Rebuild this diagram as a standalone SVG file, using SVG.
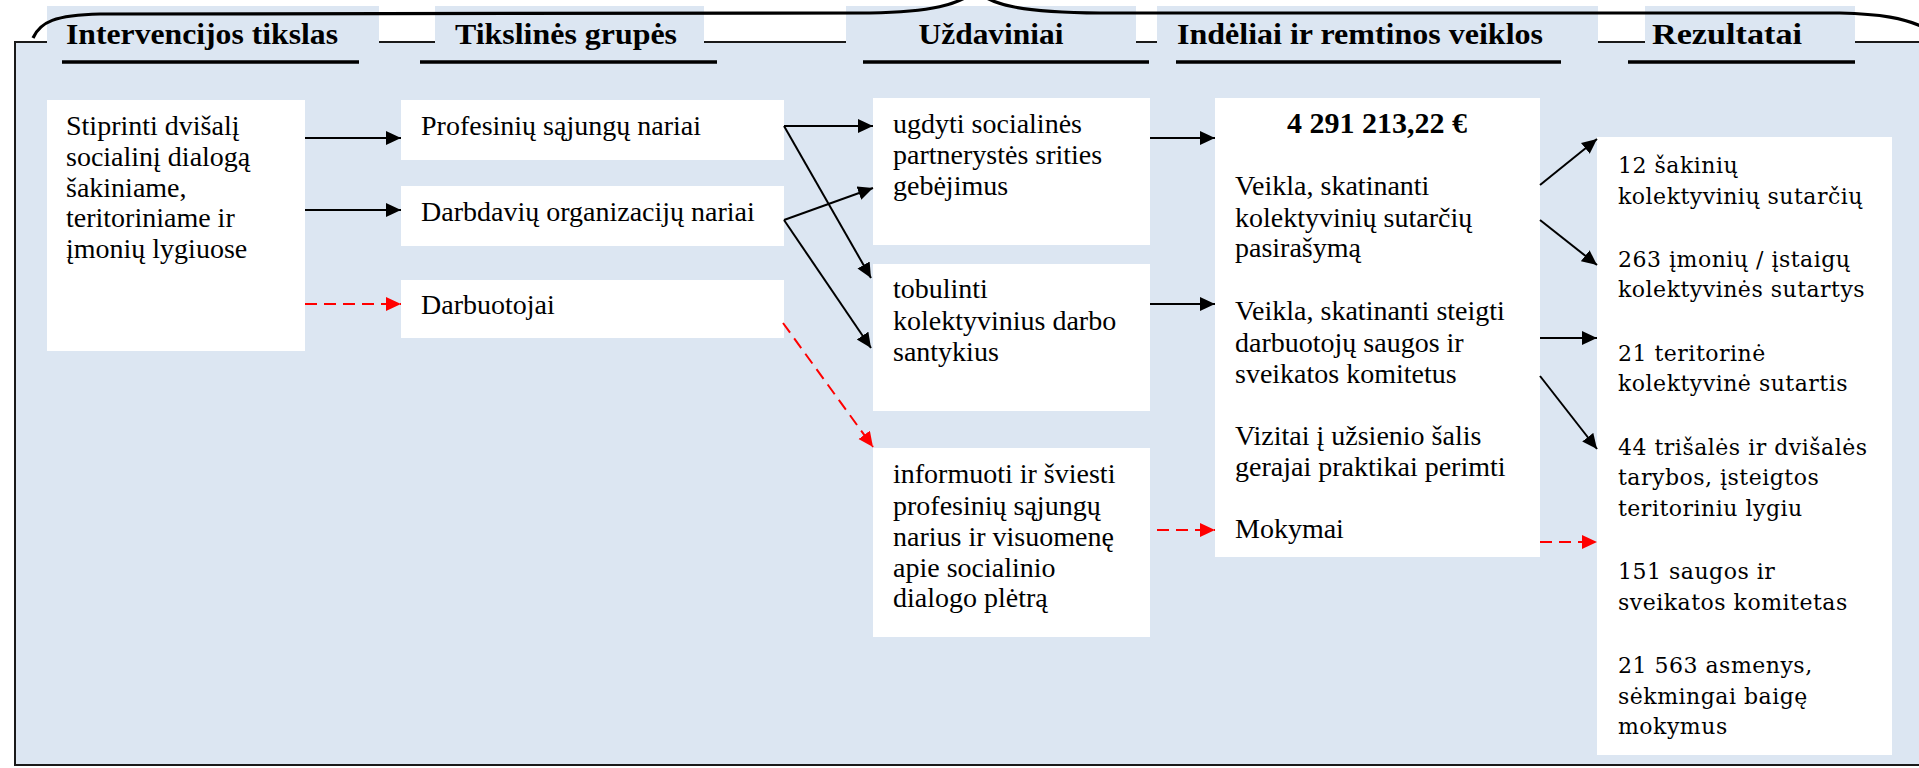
<svg xmlns="http://www.w3.org/2000/svg" width="1919" height="768" viewBox="0 0 1919 768">
<defs>
<style>
.bg{fill:#dce6f2}
.box{fill:#ffffff}
.hd{font-family:"Liberation Serif",serif;font-weight:bold;font-size:29px;fill:#000}
.t{font-family:"Liberation Serif",serif;font-size:28px;fill:#000}
.tb{font-family:"Liberation Serif",serif;font-size:30px;font-weight:bold;fill:#000}
.r{font-family:"DejaVu Serif",serif;font-size:22px;letter-spacing:0.5px;fill:#000}
.ul{stroke:#000;stroke-width:3.5}
.c{stroke:#000;stroke-width:2;fill:none}
.cr{stroke:#ff0000;stroke-width:2;fill:none;stroke-dasharray:12 7}
</style>
<marker id="ab" markerUnits="userSpaceOnUse" markerWidth="17" markerHeight="15" refX="15" refY="7" orient="auto">
<path d="M0,0 L15,7 L0,14 z" fill="#000"/>
</marker>
<marker id="ar" markerUnits="userSpaceOnUse" markerWidth="17" markerHeight="15" refX="15" refY="7" orient="auto">
<path d="M0,0 L15,7 L0,14 z" fill="#ff0000"/>
</marker>
</defs>
<rect x="0" y="0" width="1919" height="768" fill="#ffffff"/>
<g id="frame">
<rect x="15" y="42" width="1920" height="723" class="bg" stroke="#1a1a1a" stroke-width="2"/>
<rect x="47" y="6" width="332" height="38" class="bg"/>
<rect x="435" y="6" width="269" height="38" class="bg"/>
<rect x="846" y="6" width="290" height="38" class="bg"/>
<rect x="1157" y="6" width="441" height="38" class="bg"/>
<rect x="1645" y="6" width="210" height="38" class="bg"/>
<path d="M33,38 C40,22 55,15 100,14 L870,13 C930,12 960,5 976,-10 C990,5 1020,12 1100,13 L1840,13 C1880,14 1905,18 1925,28" fill="none" stroke="#000" stroke-width="3.2"/>
</g>
<g id="headers">
<text class="hd" x="202" y="44" text-anchor="middle" textLength="272" lengthAdjust="spacingAndGlyphs">Intervencijos tikslas</text>
<line class="ul" x1="62" y1="62" x2="359" y2="62"/>
<text class="hd" x="566" y="44" text-anchor="middle" textLength="222" lengthAdjust="spacingAndGlyphs">Tikslinės grupės</text>
<line class="ul" x1="420" y1="62" x2="717" y2="62"/>
<text class="hd" x="991" y="44" text-anchor="middle" textLength="145" lengthAdjust="spacingAndGlyphs">Uždaviniai</text>
<line class="ul" x1="863" y1="62" x2="1149" y2="62"/>
<text class="hd" x="1360" y="44" text-anchor="middle" textLength="366" lengthAdjust="spacingAndGlyphs">Indėliai ir remtinos veiklos</text>
<line class="ul" x1="1176" y1="62" x2="1561" y2="62"/>
<text class="hd" x="1727" y="44" text-anchor="middle" textLength="150" lengthAdjust="spacingAndGlyphs">Rezultatai</text>
<line class="ul" x1="1628" y1="62" x2="1855" y2="62"/>
</g>
<g id="n1">
<rect class="box" x="47" y="100" width="258" height="251"/>
<text class="t" x="66" y="135">Stiprinti dvišalį</text>
<text class="t" x="66" y="166">socialinį dialogą</text>
<text class="t" x="66" y="197">šakiniame,</text>
<text class="t" x="66" y="227">teritoriniame ir</text>
<text class="t" x="66" y="258">įmonių lygiuose</text>
</g>
<g id="n2">
<rect class="box" x="401" y="100" width="383" height="60"/>
<text class="t" x="421" y="135">Profesinių sąjungų nariai</text>
</g>
<g id="n3">
<rect class="box" x="401" y="186" width="383" height="60"/>
<text class="t" x="421" y="221">Darbdavių organizacijų nariai</text>
</g>
<g id="n4">
<rect class="box" x="401" y="280" width="383" height="58"/>
<text class="t" x="421" y="314">Darbuotojai</text>
</g>
<g id="n5">
<rect class="box" x="873" y="98" width="277" height="147"/>
<text class="t" x="893" y="133">ugdyti socialinės</text>
<text class="t" x="893" y="164">partnerystės srities</text>
<text class="t" x="893" y="195">gebėjimus</text>
</g>
<g id="n6">
<rect class="box" x="873" y="264" width="277" height="147"/>
<text class="t" x="893" y="298">tobulinti</text>
<text class="t" x="893" y="330">kolektyvinius darbo</text>
<text class="t" x="893" y="361">santykius</text>
</g>
<g id="n7">
<rect class="box" x="873" y="448" width="277" height="189"/>
<text class="t" x="893" y="483">informuoti ir šviesti</text>
<text class="t" x="893" y="515">profesinių sąjungų</text>
<text class="t" x="893" y="546">narius ir visuomenę</text>
<text class="t" x="893" y="577">apie socialinio</text>
<text class="t" x="893" y="607">dialogo plėtrą</text>
</g>
<g id="n8">
<rect class="box" x="1215" y="98" width="325" height="459"/>
<text class="tb" x="1377" y="133" text-anchor="middle">4 291 213,22 €</text>
<text class="t" x="1235" y="195">Veikla, skatinanti</text>
<text class="t" x="1235" y="227">kolektyvinių sutarčių</text>
<text class="t" x="1235" y="257">pasirašymą</text>
<text class="t" x="1235" y="320">Veikla, skatinanti steigti</text>
<text class="t" x="1235" y="352">darbuotojų saugos ir</text>
<text class="t" x="1235" y="383">sveikatos komitetus</text>
<text class="t" x="1235" y="445">Vizitai į užsienio šalis</text>
<text class="t" x="1235" y="476">gerajai praktikai perimti</text>
<text class="t" x="1235" y="538">Mokymai</text>
</g>
<g id="n9">
<rect class="box" x="1597" y="137" width="295" height="618"/>
<text class="r" x="1618" y="173">12 šakinių</text>
<text class="r" x="1618" y="204">kolektyvinių sutarčių</text>
<text class="r" x="1618" y="267">263 įmonių / įstaigų</text>
<text class="r" x="1618" y="297">kolektyvinės sutartys</text>
<text class="r" x="1618" y="361">21 teritorinė</text>
<text class="r" x="1618" y="391">kolektyvinė sutartis</text>
<text class="r" x="1618" y="455">44 trišalės ir dvišalės</text>
<text class="r" x="1618" y="485">tarybos, įsteigtos</text>
<text class="r" x="1618" y="516">teritoriniu lygiu</text>
<text class="r" x="1618" y="579">151 saugos ir</text>
<text class="r" x="1618" y="610">sveikatos komitetas</text>
<text class="r" x="1618" y="673">21 563 asmenys,</text>
<text class="r" x="1618" y="704">sėkmingai baigę</text>
<text class="r" x="1618" y="734">mokymus</text>
</g>
<g id="connectors">
<line class="c" x1="305" y1="138" x2="401" y2="138" marker-end="url(#ab)"/>
<line class="c" x1="305" y1="210" x2="401" y2="210" marker-end="url(#ab)"/>
<line class="cr" x1="305" y1="304" x2="401" y2="304" marker-end="url(#ar)"/>
<line class="c" x1="784" y1="126" x2="873" y2="126" marker-end="url(#ab)"/>
<line class="c" x1="784" y1="126" x2="871" y2="278" marker-end="url(#ab)"/>
<line class="c" x1="784" y1="220" x2="873" y2="188" marker-end="url(#ab)"/>
<line class="c" x1="784" y1="220" x2="871" y2="348" marker-end="url(#ab)"/>
<line class="cr" x1="783" y1="323" x2="873" y2="447" marker-end="url(#ar)"/>
<line class="c" x1="1150" y1="138" x2="1215" y2="138" marker-end="url(#ab)"/>
<line class="c" x1="1150" y1="304" x2="1215" y2="304" marker-end="url(#ab)"/>
<line class="cr" x1="1157" y1="530" x2="1215" y2="530" marker-end="url(#ar)"/>
<line class="c" x1="1540" y1="185" x2="1597" y2="139" marker-end="url(#ab)"/>
<line class="c" x1="1540" y1="220" x2="1597" y2="265" marker-end="url(#ab)"/>
<line class="c" x1="1540" y1="338" x2="1597" y2="338" marker-end="url(#ab)"/>
<line class="c" x1="1540" y1="376" x2="1597" y2="449" marker-end="url(#ab)"/>
<line class="cr" x1="1540" y1="542" x2="1597" y2="542" marker-end="url(#ar)"/>
</g>
</svg>
